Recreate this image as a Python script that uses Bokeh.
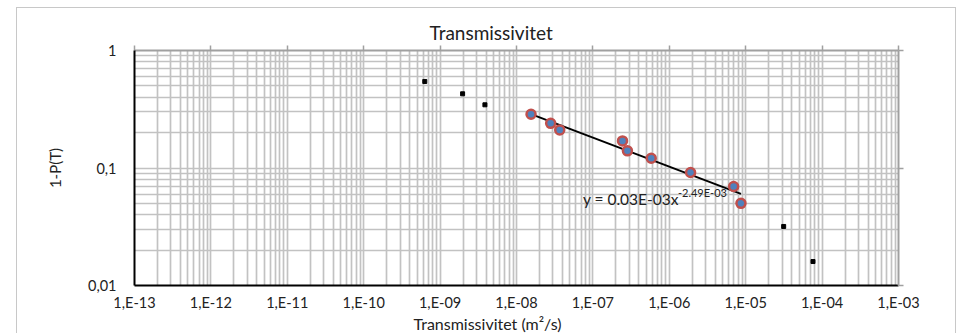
from bokeh.plotting import figure
from bokeh.models import (FixedTicker, LogAxis, Range1d, Label, Title,
                          CustomJSTickFormatter)
from bokeh.embed import file_html
from bokeh.resources import INLINE
import numpy as np

# ---- data -------------------------------------------------------------
# all observations (small black squares)
other_T = [6.3e-10, 1.97e-9, 3.86e-9, 3.14e-5, 7.6e-5]
other_P = [0.545, 0.428, 0.345, 0.0318, 0.016]

# points used for the power-law fit (blue circles, red rim)
fit_T = [1.55e-8, 2.8e-8, 3.68e-8, 2.44e-7, 2.83e-7, 5.8e-7, 1.9e-6, 6.95e-6, 8.67e-6]
fit_P = [0.287, 0.240, 0.211, 0.170, 0.140, 0.121, 0.0916, 0.0696, 0.050]

x_ticks = [1e-13, 1e-12, 1e-11, 1e-10, 1e-09, 1e-08, 1e-07, 1e-06, 1e-05, 1e-04, 1e-03]
x_tick_labels = ["1,E-13", "1,E-12", "1,E-11", "1,E-10", "1,E-09", "1,E-08",
                 "1,E-07", "1,E-06", "1,E-05", "1,E-04", "1,E-03"]
y_ticks = [0.01, 0.1, 1.0]
y_tick_labels = ["0,01", "0,1", "1"]

title_text = "Transmissivitet"
x_title = "Transmissivitet (m\u00b2/s)"
y_title = "1-P(T)"
eq_main = "y = 0.03E-03x"
eq_sup = "-2.49E-03"

FONT = "Lato"
GRID = "#c2c2c2"
TXT = "#222222"

x_minor = [m * t for t in x_ticks[:-1] for m in range(2, 10)]
y_minor = [m * t for t in y_ticks[:-1] for m in range(2, 10)]

W, H = 940, 326
p = figure(width=W, height=H, x_axis_type="log", y_axis_type="log",
           x_range=Range1d(x_ticks[0], x_ticks[-1]),
           y_range=Range1d(y_ticks[0], y_ticks[-1]),
           output_backend="svg", toolbar_location=None,
           min_border_left=117, min_border_right=59,
           min_border_top=42, min_border_bottom=49)
p.styles = {"margin-left": "16px", "margin-top": "7px",
            "border-left": "1px solid #c8c8c8",
            "border-top": "1px solid #c8c8c8", "border-right": "1px solid #c8c8c8"}
p.outline_line_color = None
p.background_fill_color = "white"
p.border_fill_color = "white"

xt = FixedTicker(ticks=x_ticks, minor_ticks=x_minor)
yt = FixedTicker(ticks=y_ticks, minor_ticks=y_minor)

def fmt(tv, lv):
    return CustomJSTickFormatter(args=dict(tvals=tv, tlabels=lv), code="""
        let best = 0, bd = Infinity;
        for (let i = 0; i < tvals.length; i++) {
            const d = Math.abs(Math.log10(tvals[i]) - Math.log10(tick));
            if (d < bd) { bd = d; best = i; }
        }
        return tlabels[best];
    """)

# bottom axis
xa = p.xaxis[0]
xa.ticker = xt
xa.formatter = fmt(x_ticks, x_tick_labels)
xa.axis_line_color = "black"
xa.axis_line_width = 2
xa.major_tick_line_color = None
xa.minor_tick_line_color = None
xa.major_tick_out = 0
xa.major_label_standoff = 4
xa.major_label_text_font = FONT
xa.major_label_text_font_size = "14.5px"
xa.major_label_text_color = TXT

# left axis
ya = p.yaxis[0]
ya.ticker = yt
ya.formatter = fmt(y_ticks, y_tick_labels)
ya.axis_line_color = "black"
ya.axis_line_width = 2
ya.major_tick_line_color = None
ya.minor_tick_line_color = None
ya.major_tick_out = 0
ya.major_label_standoff = 14
ya.major_label_text_font = FONT
ya.major_label_text_font_size = "14.5px"
ya.major_label_text_color = TXT
ya.axis_label = y_title
ya.axis_label_text_font = FONT
ya.axis_label_text_font_size = "15px"
ya.axis_label_text_font_style = "normal"
ya.axis_label_text_color = TXT
ya.axis_label_standoff = 21

# top and right axes: gray line with outward ticks, no labels
top = LogAxis(ticker=FixedTicker(ticks=x_ticks), major_tick_out=5, major_tick_in=0,
              minor_tick_line_color=None, axis_line_color="#a0a0a0", axis_line_width=2,
              major_tick_line_color="#a0a0a0", major_tick_line_width=1.5,
              major_label_text_font_size="0px", major_label_standoff=0)
top.formatter = CustomJSTickFormatter(code="return ''")
p.add_layout(top, "above")
right = LogAxis(ticker=FixedTicker(ticks=y_ticks), major_tick_out=5, major_tick_in=0,
                minor_tick_line_color=None, axis_line_color="#a0a0a0", axis_line_width=2,
                major_tick_line_color="#a0a0a0", major_tick_line_width=1.5,
                major_label_text_font_size="0px", major_label_standoff=0)
right.formatter = CustomJSTickFormatter(code="return ''")
p.add_layout(right, "right")

# grids
for g, t in ((p.xgrid[0], xt), (p.ygrid[0], yt)):
    g.ticker = t
    g.grid_line_color = GRID
    g.grid_line_width = 1.7
    g.minor_grid_line_color = GRID
    g.minor_grid_line_width = 1.7

# title
p.add_layout(Title(text=title_text, align="left", offset=295, text_font=FONT,
                   text_font_size="19px", text_font_style="normal",
                   text_color=TXT, standoff=3), "above")

# x-axis title (left-of-centre, as in the reference), in the panel below the axis
p.add_layout(Title(text=x_title, align="left", offset=279, text_font=FONT,
                   text_font_size="16px", text_font_style="normal",
                   text_line_height=1.0, text_color=TXT, standoff=0,
                   vertical_align="top"), "below")

# ---- marks -----------------------------------------------------------
p.scatter(other_T, other_P, marker="square", size=4, color="black")

# power-law trend line fitted to the circle points
lx, ly = np.log10(fit_T), np.log10(fit_P)
b, a = np.polyfit(lx, ly, 1)
tx = np.array([min(fit_T), max(fit_T)])
ty = 10 ** (a + b * np.log10(tx))
p.line(tx, ty, line_color="black", line_width=2)

p.scatter(fit_T, fit_P, marker="circle", size=9, fill_color="#4f81bd",
          line_color="#c0504d", line_width=2.5)

# equation label
eq_x, eq_y = 7.4e-8, 0.055
p.add_layout(Label(x=eq_x, y=eq_y, text=eq_main, text_font=FONT,
                   text_font_size="15.5px", text_color=TXT,
                   text_baseline="alphabetic"))
p.add_layout(Label(x=eq_x, y=eq_y, x_offset=95, y_offset=6, text=eq_sup,
                   text_font=FONT, text_font_size="11px", text_color=TXT,
                   text_baseline="alphabetic"))

open("out.html", "w").write(file_html(p, INLINE))
